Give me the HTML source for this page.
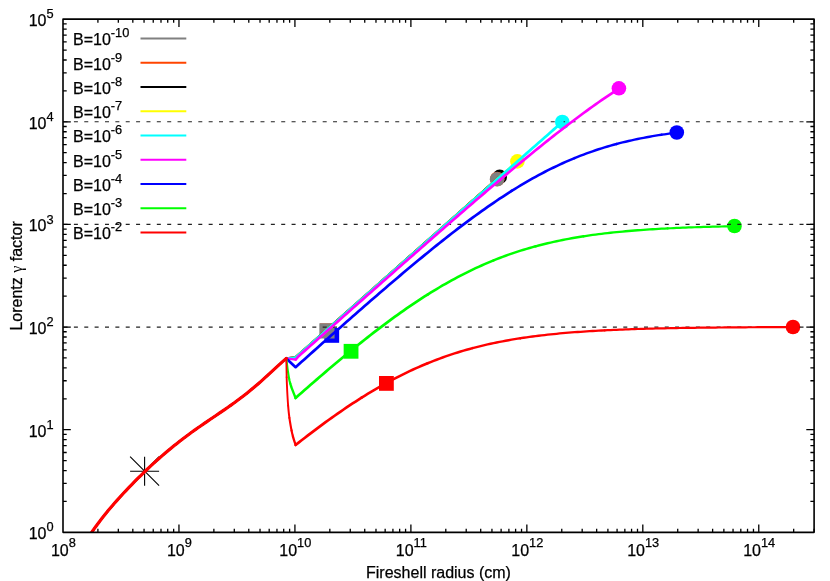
<!DOCTYPE html>
<html><head><meta charset="utf-8"><title>Lorentz gamma factor vs Fireshell radius</title>
<style>html,body{margin:0;padding:0;background:#fff;overflow:hidden}svg{display:block;will-change:transform}text{font-family:"Liberation Sans",sans-serif;fill:#000;stroke:#000;stroke-width:0.25px}.t{font-size:16px}.s{font-size:12.8px}</style></head><body>
<svg width="830" height="581" viewBox="0 0 830 581">
<rect x="0" y="0" width="830" height="581" fill="#ffffff"/>
<defs><clipPath id="pc"><rect x="63" y="19.15" width="751.1" height="513.2"/></clipPath></defs>
<g id="markers">
<rect x="379" y="376" width="14.8" height="14.8" fill="#ff0000"/>
<rect x="343.65" y="343.9" width="14.8" height="14.8" fill="#00ff00"/>
<rect x="324.35" y="328" width="14.8" height="14.8" fill="#0000ff"/>
<rect x="320.05" y="323.4" width="13.8" height="13.8" fill="#ff4500"/>
<rect x="319.35" y="323.3" width="15.2" height="15.2" fill="#808080"/>
<circle cx="793" cy="327" r="7.3" fill="#ff0000"/>
<circle cx="734.5" cy="226" r="7.3" fill="#00ff00"/>
<circle cx="676.8" cy="132.5" r="7.3" fill="#0000ff"/>
<circle cx="618.9" cy="88.3" r="7.3" fill="#ff00ff"/>
<circle cx="562.3" cy="122" r="7.3" fill="#00ffff"/>
<circle cx="517.4" cy="161.4" r="7.3" fill="#ffff00"/>
<circle cx="499.7" cy="176.9" r="7.3" fill="#000000"/>
<circle cx="497.25" cy="179" r="7.3" fill="#ff4500"/>
<circle cx="497.1" cy="179.3" r="7.3" fill="#808080"/>
</g>
<g stroke="#000" stroke-width="1.1" fill="none">
<path d="M130.1,471.2H159.1M144.6,456.7V485.7M130.1,456.7L159.1,485.7M130.1,485.7L159.1,456.7"/>
</g>
<g stroke="#222" stroke-width="1.15" stroke-dasharray="4 6.366" fill="none">
<path d="M63.53,327.07H814.1"/>
<path d="M63.53,224.43H814.1"/>
<path d="M63.53,121.79H814.1"/>
</g>
<g clip-path="url(#pc)" fill="none" stroke-linejoin="round" stroke-linecap="round" stroke-width="2.5">
<path d="M87,539.39L90,534.82L93,530.44L96,526.24L99,522.2L102,518.29L105,514.51L108,510.84L111,507.27L114,503.78L117,500.37L120,497.04L123,493.77L126,490.56L129,487.4L132,484.3L135,481.24L138,478.24L141,475.28L144,472.37L147,469.5L150,466.68L153,463.91L156,461.18L159,458.5L162,455.86L165,453.28L168,450.74L171,448.24L174,445.8L177,443.4L180,441.05L183,438.74L186,436.47L189,434.24L192,432.06L195,429.9L198,427.78L201,425.69L204,423.62L207,421.56L210,419.52L213,417.49L216,415.46L219,413.42L222,411.38L225,409.31L228,407.23L231,405.11L234,402.96L237,400.77L240,398.53L243,396.24L246,393.9L249,391.5L252,389.05L255,386.53L258,383.96L261,381.33L264,378.65L267,375.93L270,373.17L273,370.4L276,367.62L279,364.86L282,362.13L286.3,358.4" stroke="#808080" stroke-width="1.9"/>
<path d="M286.3,358.4L295.6,357.61" stroke="#808080" stroke-width="2.3"/>
<path d="M295.6,357.61L298.6,354.95L301.6,352.3L304.6,349.64L307.6,346.99L310.6,344.33L313.6,341.68L316.6,339.02L319.6,336.37L322.6,333.71L325.6,331.06L328.6,328.4L331.6,325.75L334.6,323.09L337.6,320.44L340.6,317.79L343.6,315.13L346.6,312.48L349.6,309.82L352.6,307.17L355.6,304.51L358.6,301.86L361.6,299.2L364.6,296.55L367.6,293.89L370.6,291.24L373.6,288.58L376.6,285.93L379.6,283.27L382.6,280.62L385.6,277.97L388.6,275.31L391.6,272.66L394.6,270L397.6,267.35L400.6,264.69L403.6,262.04L406.6,259.38L409.6,256.73L412.6,254.07L415.6,251.42L418.6,248.76L421.6,246.11L424.6,243.45L427.6,240.8L430.6,238.15L433.6,235.49L436.6,232.84L439.6,230.18L442.6,227.53L445.6,224.87L448.6,222.22L451.6,219.56L454.6,216.91L457.6,214.25L460.6,211.6L463.6,208.94L466.6,206.29L469.6,203.63L472.6,200.98L475.6,198.33L478.6,195.67L481.6,193.02L484.6,190.36L487.6,187.71L490.6,185.05L493.6,182.4L496.6,179.74L497.1,179.3" stroke="#808080" stroke-width="2.7"/>
<path d="M87,539.39L90,534.82L93,530.44L96,526.24L99,522.2L102,518.29L105,514.51L108,510.84L111,507.27L114,503.78L117,500.37L120,497.04L123,493.77L126,490.56L129,487.4L132,484.3L135,481.24L138,478.24L141,475.28L144,472.37L147,469.5L150,466.68L153,463.91L156,461.18L159,458.5L162,455.86L165,453.28L168,450.74L171,448.24L174,445.8L177,443.4L180,441.05L183,438.74L186,436.47L189,434.24L192,432.06L195,429.9L198,427.78L201,425.69L204,423.62L207,421.56L210,419.52L213,417.49L216,415.46L219,413.42L222,411.38L225,409.31L228,407.23L231,405.11L234,402.96L237,400.77L240,398.53L243,396.24L246,393.9L249,391.5L252,389.05L255,386.53L258,383.96L261,381.33L264,378.65L267,375.93L270,373.17L273,370.4L276,367.62L279,364.86L282,362.13L286.3,358.4" stroke="#ff4500" stroke-width="1.9"/>
<path d="M286.3,358.4L295.6,357.44" stroke="#ff4500" stroke-width="2.3"/>
<path d="M295.6,357.44L298.6,354.78L301.6,352.13L304.6,349.47L307.6,346.82L310.6,344.16L313.6,341.51L316.6,338.86L319.6,336.2L322.6,333.55L325.6,330.89L328.6,328.24L331.6,325.58L334.6,322.93L337.6,320.27L340.6,317.62L343.6,314.96L346.6,312.31L349.6,309.65L352.6,307L355.6,304.34L358.6,301.69L361.6,299.04L364.6,296.38L367.6,293.73L370.6,291.07L373.6,288.42L376.6,285.76L379.6,283.11L382.6,280.45L385.6,277.8L388.6,275.14L391.6,272.49L394.6,269.83L397.6,267.18L400.6,264.52L403.6,261.87L406.6,259.22L409.6,256.56L412.6,253.91L415.6,251.25L418.6,248.6L421.6,245.94L424.6,243.29L427.6,240.63L430.6,237.98L433.6,235.32L436.6,232.67L439.6,230.01L442.6,227.36L445.6,224.7L448.6,222.05L451.6,219.4L454.6,216.74L457.6,214.09L460.6,211.43L463.6,208.78L466.6,206.12L469.6,203.47L472.6,200.81L475.6,198.16L478.6,195.5L481.6,192.85L484.6,190.19L487.6,187.54L490.6,184.88L493.6,182.23L496.6,179.58L497.25,179" stroke="#ff4500" stroke-width="2.7"/>
<path d="M87,539.39L90,534.82L93,530.44L96,526.24L99,522.2L102,518.29L105,514.51L108,510.84L111,507.27L114,503.78L117,500.37L120,497.04L123,493.77L126,490.56L129,487.4L132,484.3L135,481.24L138,478.24L141,475.28L144,472.37L147,469.5L150,466.68L153,463.91L156,461.18L159,458.5L162,455.86L165,453.28L168,450.74L171,448.24L174,445.8L177,443.4L180,441.05L183,438.74L186,436.47L189,434.24L192,432.06L195,429.9L198,427.78L201,425.69L204,423.62L207,421.56L210,419.52L213,417.49L216,415.46L219,413.42L222,411.38L225,409.31L228,407.23L231,405.11L234,402.96L237,400.77L240,398.53L243,396.24L246,393.9L249,391.5L252,389.05L255,386.53L258,383.96L261,381.33L264,378.65L267,375.93L270,373.17L273,370.4L276,367.62L279,364.86L282,362.13L286.3,358.4" stroke="#000000" stroke-width="1.9"/>
<path d="M286.3,358.4L295.6,357.5" stroke="#000000" stroke-width="2.3"/>
<path d="M295.6,357.5L298.6,354.85L301.6,352.2L304.6,349.54L307.6,346.89L310.6,344.23L313.6,341.58L316.6,338.92L319.6,336.27L322.6,333.61L325.6,330.96L328.6,328.3L331.6,325.65L334.6,322.99L337.6,320.34L340.6,317.68L343.6,315.03L346.6,312.38L349.6,309.72L352.6,307.07L355.6,304.41L358.6,301.76L361.6,299.1L364.6,296.45L367.6,293.79L370.6,291.14L373.6,288.48L376.6,285.83L379.6,283.17L382.6,280.52L385.6,277.86L388.6,275.21L391.6,272.56L394.6,269.9L397.6,267.25L400.6,264.59L403.6,261.94L406.6,259.28L409.6,256.63L412.6,253.97L415.6,251.32L418.6,248.66L421.6,246.01L424.6,243.35L427.6,240.7L430.6,238.04L433.6,235.39L436.6,232.74L439.6,230.08L442.6,227.43L445.6,224.77L448.6,222.12L451.6,219.46L454.6,216.81L457.6,214.15L460.6,211.5L463.6,208.84L466.6,206.19L469.6,203.53L472.6,200.88L475.6,198.23L478.6,195.57L481.6,192.92L484.6,190.26L487.6,187.61L490.6,184.95L493.6,182.3L496.6,179.64L499.6,176.99L499.7,176.9" stroke="#000000" stroke-width="2.7"/>
<path d="M87,539.39L90,534.82L93,530.44L96,526.24L99,522.2L102,518.29L105,514.51L108,510.84L111,507.27L114,503.78L117,500.37L120,497.04L123,493.77L126,490.56L129,487.4L132,484.3L135,481.24L138,478.24L141,475.28L144,472.37L147,469.5L150,466.68L153,463.91L156,461.18L159,458.5L162,455.86L165,453.28L168,450.74L171,448.24L174,445.8L177,443.4L180,441.05L183,438.74L186,436.47L189,434.24L192,432.06L195,429.9L198,427.78L201,425.69L204,423.62L207,421.56L210,419.52L213,417.49L216,415.46L219,413.42L222,411.38L225,409.31L228,407.23L231,405.11L234,402.96L237,400.77L240,398.53L243,396.24L246,393.9L249,391.5L252,389.05L255,386.53L258,383.96L261,381.33L264,378.65L267,375.93L270,373.17L273,370.4L276,367.62L279,364.86L282,362.13L286.3,358.4" stroke="#ffff00" stroke-width="1.9"/>
<path d="M286.3,358.4L295.6,357.65" stroke="#ffff00" stroke-width="2.3"/>
<path d="M295.6,357.65L298.6,355L301.6,352.34L304.6,349.69L307.6,347.03L310.6,344.38L313.6,341.72L316.6,339.07L319.6,336.41L322.6,333.76L325.6,331.1L328.6,328.45L331.6,325.79L334.6,323.14L337.6,320.49L340.6,317.83L343.6,315.18L346.6,312.52L349.6,309.87L352.6,307.21L355.6,304.56L358.6,301.9L361.6,299.25L364.6,296.59L367.6,293.94L370.6,291.28L373.6,288.63L376.6,285.98L379.6,283.32L382.6,280.67L385.6,278.01L388.6,275.36L391.6,272.7L394.6,270.05L397.6,267.39L400.6,264.74L403.6,262.08L406.6,259.43L409.6,256.78L412.6,254.12L415.6,251.47L418.6,248.81L421.6,246.16L424.6,243.5L427.6,240.85L430.6,238.19L433.6,235.54L436.6,232.88L439.6,230.23L442.6,227.58L445.6,224.92L448.6,222.27L451.6,219.61L454.6,216.96L457.6,214.3L460.6,211.65L463.6,209L466.6,206.34L469.6,203.69L472.6,201.03L475.6,198.38L478.6,195.72L481.6,193.07L484.6,190.42L487.6,187.76L490.6,185.11L493.6,182.45L496.6,179.8L499.6,177.15L502.6,174.49L505.6,171.84L508.6,169.18L511.6,166.53L514.6,163.88L517.4,161.4" stroke="#ffff00" stroke-width="2.7"/>
<path d="M87,539.39L90,534.82L93,530.44L96,526.24L99,522.2L102,518.29L105,514.51L108,510.84L111,507.27L114,503.78L117,500.37L120,497.04L123,493.77L126,490.56L129,487.4L132,484.3L135,481.24L138,478.24L141,475.28L144,472.37L147,469.5L150,466.68L153,463.91L156,461.18L159,458.5L162,455.86L165,453.28L168,450.74L171,448.24L174,445.8L177,443.4L180,441.05L183,438.74L186,436.47L189,434.24L192,432.06L195,429.9L198,427.78L201,425.69L204,423.62L207,421.56L210,419.52L213,417.49L216,415.46L219,413.42L222,411.38L225,409.31L228,407.23L231,405.11L234,402.96L237,400.77L240,398.53L243,396.24L246,393.9L249,391.5L252,389.05L255,386.53L258,383.96L261,381.33L264,378.65L267,375.93L270,373.17L273,370.4L276,367.62L279,364.86L282,362.13L286.3,358.4" stroke="#00ffff" stroke-width="1.9"/>
<path d="M286.3,358.4L295.6,357.56" stroke="#00ffff" stroke-width="2.3"/>
<path d="M295.6,357.56L298.6,354.9L301.6,352.25L304.6,349.6L307.6,346.94L310.6,344.29L313.6,341.63L316.6,338.98L319.6,336.32L322.6,333.67L325.6,331.01L328.6,328.36L331.6,325.7L334.6,323.05L337.6,320.4L340.6,317.74L343.6,315.09L346.6,312.43L349.6,309.78L352.6,307.12L355.6,304.47L358.6,301.82L361.6,299.16L364.6,296.51L367.6,293.85L370.6,291.2L373.6,288.55L376.6,285.89L379.6,283.24L382.6,280.58L385.6,277.93L388.6,275.28L391.6,272.62L394.6,269.97L397.6,267.31L400.6,264.66L403.6,262.01L406.6,259.35L409.6,256.7L412.6,254.05L415.6,251.39L418.6,248.74L421.6,246.09L424.6,243.43L427.6,240.78L430.6,238.13L433.6,235.48L436.6,232.82L439.6,230.17L442.6,227.52L445.6,224.87L448.6,222.21L451.6,219.56L454.6,216.91L457.6,214.26L460.6,211.61L463.6,208.96L466.6,206.31L469.6,203.66L472.6,201.01L475.6,198.36L478.6,195.71L481.6,193.06L484.6,190.41L487.6,187.76L490.6,185.11L493.6,182.46L496.6,179.81L499.6,177.17L502.6,174.52L505.6,171.87L508.6,169.23L511.6,166.58L514.6,163.94L517.6,161.29L520.6,158.65L523.6,156.01L526.6,153.37L529.6,150.72L532.6,148.08L535.6,145.44L538.6,142.81L541.6,140.17L544.6,137.53L547.6,134.9L550.6,132.26L553.6,129.63L556.6,127L559.6,124.37L562.3,122" stroke="#00ffff" stroke-width="2.7"/>
<path d="M87,539.39L90,534.82L93,530.44L96,526.24L99,522.2L102,518.29L105,514.51L108,510.84L111,507.27L114,503.78L117,500.37L120,497.04L123,493.77L126,490.56L129,487.4L132,484.3L135,481.24L138,478.24L141,475.28L144,472.37L147,469.5L150,466.68L153,463.91L156,461.18L159,458.5L162,455.86L165,453.28L168,450.74L171,448.24L174,445.8L177,443.4L180,441.05L183,438.74L186,436.47L189,434.24L192,432.06L195,429.9L198,427.78L201,425.69L204,423.62L207,421.56L210,419.52L213,417.49L216,415.46L219,413.42L222,411.38L225,409.31L228,407.23L231,405.11L234,402.96L237,400.77L240,398.53L243,396.24L246,393.9L249,391.5L252,389.05L255,386.53L258,383.96L261,381.33L264,378.65L267,375.93L270,373.17L273,370.4L276,367.62L279,364.86L282,362.13L286.3,358.4" stroke="#ff00ff" stroke-width="1.9"/>
<path d="M286.3,358.4L295.6,359.57" stroke="#ff00ff" stroke-width="2.3"/>
<path d="M295.6,359.57L298.6,356.2L301.6,353.54L304.6,350.88L307.6,348.22L310.6,345.56L313.6,342.89L316.6,340.23L319.6,337.57L322.6,334.91L325.6,332.25L328.6,329.59L331.6,326.94L334.6,324.28L337.6,321.62L340.6,318.96L343.6,316.3L346.6,313.65L349.6,310.99L352.6,308.34L355.6,305.68L358.6,303.03L361.6,300.37L364.6,297.72L367.6,295.07L370.6,292.42L373.6,289.77L376.6,287.12L379.6,284.47L382.6,281.82L385.6,279.18L388.6,276.53L391.6,273.89L394.6,271.24L397.6,268.6L400.6,265.96L403.6,263.32L406.6,260.68L409.6,258.04L412.6,255.41L415.6,252.78L418.6,250.14L421.6,247.51L424.6,244.89L427.6,242.26L430.6,239.64L433.6,237.01L436.6,234.39L439.6,231.78L442.6,229.16L445.6,226.55L448.6,223.94L451.6,221.33L454.6,218.73L457.6,216.13L460.6,213.53L463.6,210.94L466.6,208.35L469.6,205.76L472.6,203.18L475.6,200.6L478.6,198.03L481.6,195.46L484.6,192.89L487.6,190.33L490.6,187.78L493.6,185.23L496.6,182.69L499.6,180.15L502.6,177.62L505.6,175.1L508.6,172.58L511.6,170.07L514.6,167.57L517.6,165.07L520.6,162.59L523.6,160.11L526.6,157.64L529.6,155.18L532.6,152.73L535.6,150.29L538.6,147.86L541.6,145.44L544.6,143.04L547.6,140.64L550.6,138.26L553.6,135.89L556.6,133.53L559.6,131.19L562.6,128.86L565.6,126.55L568.6,124.25L571.6,121.97L574.6,119.71L577.6,117.46L580.6,115.23L583.6,113.02L586.6,110.82L589.6,108.65L592.6,106.5L595.6,104.37L598.6,102.26L601.6,100.17L604.6,98.1L607.6,96.06L610.6,94.04L613.6,92.05L616.6,90.08L618.9,88.59" stroke="#ff00ff" stroke-width="2.7"/>
<path d="M87,539.39L90,534.82L93,530.44L96,526.24L99,522.2L102,518.29L105,514.51L108,510.84L111,507.27L114,503.78L117,500.37L120,497.04L123,493.77L126,490.56L129,487.4L132,484.3L135,481.24L138,478.24L141,475.28L144,472.37L147,469.5L150,466.68L153,463.91L156,461.18L159,458.5L162,455.86L165,453.28L168,450.74L171,448.24L174,445.8L177,443.4L180,441.05L183,438.74L186,436.47L189,434.24L192,432.06L195,429.9L198,427.78L201,425.69L204,423.62L207,421.56L210,419.52L213,417.49L216,415.46L219,413.42L222,411.38L225,409.31L228,407.23L231,405.11L234,402.96L237,400.77L240,398.53L243,396.24L246,393.9L249,391.5L252,389.05L255,386.53L258,383.96L261,381.33L264,378.65L267,375.93L270,373.17L273,370.4L276,367.62L279,364.86L282,362.13L286.3,358.4" stroke="#0000ff" stroke-width="1.9"/>
<path d="M286.3,358.4L295.6,367.21L298.6,364.52L301.6,361.84L304.6,359.15L307.6,356.47L310.6,353.79L313.6,351.12L316.6,348.44L319.6,345.77L322.6,343.1L325.6,340.43L328.6,337.77L331.6,335.11L334.6,332.45L337.6,329.8L340.6,327.14L343.6,324.5L346.6,321.85L349.6,319.21L352.6,316.58L355.6,313.94L358.6,311.32L361.6,308.69L364.6,306.08L367.6,303.46L370.6,300.85L373.6,298.25L376.6,295.66L379.6,293.07L382.6,290.48L385.6,287.9L388.6,285.33L391.6,282.77L394.6,280.21L397.6,277.66L400.6,275.12L403.6,272.59L406.6,270.07L409.6,267.55L412.6,265.05L415.6,262.56L418.6,260.07L421.6,257.6L424.6,255.14L427.6,252.69L430.6,250.25L433.6,247.82L436.6,245.41L439.6,243.01L442.6,240.63L445.6,238.26L448.6,235.9L451.6,233.56L454.6,231.24L457.6,228.93L460.6,226.65L463.6,224.37L466.6,222.12L469.6,219.89L472.6,217.68L475.6,215.48L478.6,213.31L481.6,211.16L484.6,209.03L487.6,206.93L490.6,204.84L493.6,202.79L496.6,200.75L499.6,198.74L502.6,196.76L505.6,194.8L508.6,192.88L511.6,190.97" stroke="#0000ff" stroke-width="2.7"/>
<path d="M511.6,190.97L514.6,189.1L517.6,187.25L520.6,185.44L523.6,183.65L526.6,181.89L529.6,180.17L532.6,178.47L535.6,176.81L538.6,175.17L541.6,173.57L544.6,172L547.6,170.46L550.6,168.96L553.6,167.49L556.6,166.05L559.6,164.64L562.6,163.27L565.6,161.92L568.6,160.62L571.6,159.34L574.6,158.1" stroke="#0000ff" stroke-width="2.6"/>
<path d="M574.6,158.1L577.6,156.89L580.6,155.71L583.6,154.56L586.6,153.45L589.6,152.37L592.6,151.32L595.6,150.3L598.6,149.31L601.6,148.35L604.6,147.42L607.6,146.52L610.6,145.65L613.6,144.81L616.6,143.99" stroke="#0000ff" stroke-width="2.5"/>
<path d="M616.6,143.99L619.6,143.2L622.6,142.44L625.6,141.71L628.6,141L631.6,140.31L634.6,139.65L637.6,139.02L640.6,138.41L643.6,137.82L646.6,137.25L649.6,136.7L652.6,136.18L655.6,135.67L658.6,135.18L661.6,134.72" stroke="#0000ff" stroke-width="2.4"/>
<path d="M661.6,134.72L664.6,134.27L667.6,133.84L670.6,133.42L673.6,133.03L676.6,132.65L676.8,132.62" stroke="#0000ff" stroke-width="2.3"/>
<path d="M87,539.39L90,534.82L93,530.44L96,526.24L99,522.2L102,518.29L105,514.51L108,510.84L111,507.27L114,503.78L117,500.37L120,497.04L123,493.77L126,490.56L129,487.4L132,484.3L135,481.24L138,478.24L141,475.28L144,472.37L147,469.5L150,466.68L153,463.91L156,461.18L159,458.5L162,455.86L165,453.28L168,450.74L171,448.24L174,445.8L177,443.4L180,441.05L183,438.74L186,436.47L189,434.24L192,432.06L195,429.9L198,427.78L201,425.69L204,423.62L207,421.56L210,419.52L213,417.49L216,415.46L219,413.42L222,411.38L225,409.31L228,407.23L231,405.11L234,402.96L237,400.77L240,398.53L243,396.24L246,393.9L249,391.5L252,389.05L255,386.53L258,383.96L261,381.33L264,378.65L267,375.93L270,373.17L273,370.4L276,367.62L279,364.86L282,362.13L286.3,358.4" stroke="#00ff00" stroke-width="1.9"/>
<path d="M286.3,358.4L286.54,360.18L286.83,362.59L287.18,365.47L287.58,368.64L288.02,371.94" stroke="#00ff00" stroke-width="2"/>
<path d="M288.02,371.94L288.51,375.21L289.04,378.29" stroke="#00ff00" stroke-width="2.1"/>
<path d="M289.04,378.29L289.6,381L290.26,383.51" stroke="#00ff00" stroke-width="2.2"/>
<path d="M290.26,383.51L291.05,386.04" stroke="#00ff00" stroke-width="2.3"/>
<path d="M291.05,386.04L291.92,388.53L292.81,390.91L293.67,393.12L294.46,395.08L295.12,396.73L295.6,398" stroke="#00ff00" stroke-width="2.4"/>
<path d="M295.6,398L298.6,395.35L301.6,392.7L304.6,390.07L307.6,387.44L310.6,384.82L313.6,382.22L316.6,379.62L319.6,377.03L322.6,374.45L325.6,371.89L328.6,369.33L331.6,366.79L334.6,364.26L337.6,361.74L340.6,359.24L343.6,356.75L346.6,354.27L349.6,351.81L352.6,349.36L355.6,346.93L358.6,344.51L361.6,342.11L364.6,339.73L367.6,337.37L370.6,335.02L373.6,332.69L376.6,330.38L379.6,328.09L382.6,325.82L385.6,323.58L388.6,321.35L391.6,319.14L394.6,316.96L397.6,314.8L400.6,312.66L403.6,310.55L406.6,308.46L409.6,306.4L412.6,304.36L415.6,302.35L418.6,300.37L421.6,298.41L424.6,296.48L427.6,294.58" stroke="#00ff00" stroke-width="2.7"/>
<path d="M427.6,294.58L430.6,292.7L433.6,290.86L436.6,289.04L439.6,287.25L442.6,285.49L445.6,283.77L448.6,282.07L451.6,280.4L454.6,278.77L457.6,277.16L460.6,275.59L463.6,274.05L466.6,272.54L469.6,271.06L472.6,269.61L475.6,268.19L478.6,266.81L481.6,265.46L484.6,264.14L487.6,262.85L490.6,261.59L493.6,260.36" stroke="#00ff00" stroke-width="2.6"/>
<path d="M493.6,260.36L496.6,259.17L499.6,258L502.6,256.87L505.6,255.76L508.6,254.69L511.6,253.64L514.6,252.63L517.6,251.64L520.6,250.68L523.6,249.75L526.6,248.85L529.6,247.97L532.6,247.12L535.6,246.3" stroke="#00ff00" stroke-width="2.5"/>
<path d="M535.6,246.3L538.6,245.51L541.6,244.73L544.6,243.99L547.6,243.27L550.6,242.57L553.6,241.89L556.6,241.24L559.6,240.61L562.6,240L565.6,239.41L568.6,238.84L571.6,238.29L574.6,237.77L577.6,237.26L580.6,236.77L583.6,236.29" stroke="#00ff00" stroke-width="2.4"/>
<path d="M583.6,236.29L586.6,235.84L589.6,235.4L592.6,234.98L595.6,234.57L598.6,234.18L601.6,233.8L604.6,233.44L607.6,233.09L610.6,232.75L613.6,232.43L616.6,232.12L619.6,231.82L622.6,231.54L625.6,231.26L628.6,231L631.6,230.74L634.6,230.5L637.6,230.27L640.6,230.04L643.6,229.83L646.6,229.62L649.6,229.42L652.6,229.23L655.6,229.05L658.6,228.87L661.6,228.7L664.6,228.54L667.6,228.39" stroke="#00ff00" stroke-width="2.3"/>
<path d="M667.6,228.39L670.6,228.24L673.6,228.1L676.6,227.96L679.6,227.83L682.6,227.71L685.6,227.59L688.6,227.47L691.6,227.36L694.6,227.26L697.6,227.16L700.6,227.06L703.6,226.97L706.6,226.88L709.6,226.79L712.6,226.71L715.6,226.63L718.6,226.56L721.6,226.49L724.6,226.42L727.6,226.35L730.6,226.29L733.6,226.23L734.5,226.21" stroke="#00ff00" stroke-width="2.2"/>
<path d="M87,539.39L90,534.82L93,530.44L96,526.24L99,522.2L102,518.29L105,514.51L108,510.84L111,507.27L114,503.78L117,500.37L120,497.04L123,493.77L126,490.56L129,487.4L132,484.3L135,481.24L138,478.24L141,475.28L144,472.37L147,469.5L150,466.68L153,463.91L156,461.18L159,458.5L162,455.86L165,453.28L168,450.74L171,448.24L174,445.8L177,443.4L180,441.05L183,438.74L186,436.47L189,434.24L192,432.06L195,429.9L198,427.78L201,425.69L204,423.62L207,421.56L210,419.52L213,417.49L216,415.46L219,413.42L222,411.38L225,409.31L228,407.23L231,405.11L234,402.96L237,400.77L240,398.53L243,396.24L246,393.9L249,391.5L252,389.05L255,386.53L258,383.96L261,381.33L264,378.65L267,375.93L270,373.17L273,370.4L276,367.62L279,364.86L282,362.13L286.3,358.4" stroke="#ff0000" stroke-width="3.2"/>
<path d="M286.3,358.4L286.34,360.39L286.38,363.03L286.43,366.18L286.49,369.68L286.56,373.39L286.65,377.18" stroke="#ff0000" stroke-width="1.8"/>
<path d="M286.65,377.18L286.76,380.9L286.9,384.4L287.06,387.82L287.23,391.35L287.42,394.94L287.63,398.54L287.86,402.09L288.12,405.55" stroke="#ff0000" stroke-width="1.9"/>
<path d="M288.12,405.55L288.4,408.87L288.7,412L289.04,414.97L289.41,417.83" stroke="#ff0000" stroke-width="2"/>
<path d="M289.41,417.83L289.81,420.6L290.24,423.25L290.67,425.78L291.12,428.19L291.56,430.47" stroke="#ff0000" stroke-width="2.1"/>
<path d="M291.56,430.47L292,432.6L292.46,434.63L292.96,436.57" stroke="#ff0000" stroke-width="2.2"/>
<path d="M292.96,436.57L293.49,438.39L294.01,440.09L294.5,441.62L294.95,442.96L295.32,444.1L295.6,445" stroke="#ff0000" stroke-width="2.3"/>
<path d="M295.6,445L298.6,442.63L301.6,440.29L304.6,437.96L307.6,435.65L310.6,433.35L313.6,431.08L316.6,428.82L319.6,426.59L322.6,424.37L325.6,422.18L328.6,420.01L331.6,417.86L334.6,415.73L337.6,413.62L340.6,411.54L343.6,409.49L346.6,407.45L349.6,405.44L352.6,403.46L355.6,401.51L358.6,399.58L361.6,397.67" stroke="#ff0000" stroke-width="2.7"/>
<path d="M361.6,397.67L364.6,395.8L367.6,393.95L370.6,392.13L373.6,390.34L376.6,388.58L379.6,386.85L382.6,385.14L385.6,383.47L388.6,381.82L391.6,380.21L394.6,378.63L397.6,377.08L400.6,375.56L403.6,374.06L406.6,372.61L409.6,371.18L412.6,369.78L415.6,368.41L418.6,367.08L421.6,365.77L424.6,364.5L427.6,363.26" stroke="#ff0000" stroke-width="2.6"/>
<path d="M427.6,363.26L430.6,362.05L433.6,360.86L436.6,359.71L439.6,358.59L442.6,357.5L445.6,356.44L448.6,355.4L451.6,354.4L454.6,353.42L457.6,352.48L460.6,351.56L463.6,350.66L466.6,349.8L469.6,348.96L472.6,348.14" stroke="#ff0000" stroke-width="2.5"/>
<path d="M472.6,348.14L475.6,347.35L478.6,346.59L481.6,345.85L484.6,345.13L487.6,344.44L490.6,343.77L493.6,343.12L496.6,342.5L499.6,341.89L502.6,341.31L505.6,340.75L508.6,340.2L511.6,339.68L514.6,339.17L517.6,338.69L520.6,338.22" stroke="#ff0000" stroke-width="2.4"/>
<path d="M520.6,338.22L523.6,337.76L526.6,337.33L529.6,336.91L532.6,336.5L535.6,336.11L538.6,335.74L541.6,335.38L544.6,335.03L547.6,334.7L550.6,334.37L553.6,334.07L556.6,333.77L559.6,333.48L562.6,333.21L565.6,332.95L568.6,332.69L571.6,332.45L574.6,332.22L577.6,331.99L580.6,331.78L583.6,331.57L586.6,331.37L589.6,331.18L592.6,331L595.6,330.83L598.6,330.66L601.6,330.5L604.6,330.34" stroke="#ff0000" stroke-width="2.3"/>
<path d="M604.6,330.34L607.6,330.2L610.6,330.06L613.6,329.92L616.6,329.79L619.6,329.66L622.6,329.54L625.6,329.43L628.6,329.32L631.6,329.21L634.6,329.11L637.6,329.02L640.6,328.92L643.6,328.83L646.6,328.75L649.6,328.67L652.6,328.59L655.6,328.51L658.6,328.44L661.6,328.37L664.6,328.31L667.6,328.25L670.6,328.19L673.6,328.13L676.6,328.07L679.6,328.02L682.6,327.97L685.6,327.92L688.6,327.87L691.6,327.83L694.6,327.79L697.6,327.75L700.6,327.71L703.6,327.67L706.6,327.63L709.6,327.6L712.6,327.57L715.6,327.54L718.6,327.51L721.6,327.48L724.6,327.45L727.6,327.42L730.6,327.4L733.6,327.37L736.6,327.35L739.6,327.33L742.6,327.31L745.6,327.29L748.6,327.27L751.6,327.25L754.6,327.23L757.6,327.22L760.6,327.2L763.6,327.18L766.6,327.17L769.6,327.16L772.6,327.14L775.6,327.13L778.6,327.12L781.6,327.1L784.6,327.09L787.6,327.08L790.6,327.07L793,327.06" stroke="#ff0000" stroke-width="2.2"/>
</g>
<g stroke="#000" fill="none" stroke-width="1.3">
<path d="M97.91,532.35v-3.7M97.91,19.15v3.7M118.33,532.35v-3.7M118.33,19.15v3.7M132.82,532.35v-3.7M132.82,19.15v3.7M144.05,532.35v-3.7M144.05,19.15v3.7M153.24,532.35v-3.7M153.24,19.15v3.7M161,532.35v-3.7M161,19.15v3.7M167.72,532.35v-3.7M167.72,19.15v3.7M173.66,532.35v-3.7M173.66,19.15v3.7M178.96,532.35v-7.8M178.96,19.15v7.8M213.87,532.35v-3.7M213.87,19.15v3.7M234.29,532.35v-3.7M234.29,19.15v3.7M248.78,532.35v-3.7M248.78,19.15v3.7M260.02,532.35v-3.7M260.02,19.15v3.7M269.2,532.35v-3.7M269.2,19.15v3.7M276.96,532.35v-3.7M276.96,19.15v3.7M283.69,532.35v-3.7M283.69,19.15v3.7M289.62,532.35v-3.7M289.62,19.15v3.7M294.92,532.35v-7.8M294.92,19.15v7.8M329.83,532.35v-3.7M329.83,19.15v3.7M350.25,532.35v-3.7M350.25,19.15v3.7M364.74,532.35v-3.7M364.74,19.15v3.7M375.98,532.35v-3.7M375.98,19.15v3.7M385.16,532.35v-3.7M385.16,19.15v3.7M392.92,532.35v-3.7M392.92,19.15v3.7M399.65,532.35v-3.7M399.65,19.15v3.7M405.58,532.35v-3.7M405.58,19.15v3.7M410.89,532.35v-7.8M410.89,19.15v7.8M445.79,532.35v-3.7M445.79,19.15v3.7M466.21,532.35v-3.7M466.21,19.15v3.7M480.7,532.35v-3.7M480.7,19.15v3.7M491.94,532.35v-3.7M491.94,19.15v3.7M501.12,532.35v-3.7M501.12,19.15v3.7M508.89,532.35v-3.7M508.89,19.15v3.7M515.61,532.35v-3.7M515.61,19.15v3.7M521.54,532.35v-3.7M521.54,19.15v3.7M526.85,532.35v-7.8M526.85,19.15v7.8M561.76,532.35v-3.7M561.76,19.15v3.7M582.18,532.35v-3.7M582.18,19.15v3.7M596.66,532.35v-3.7M596.66,19.15v3.7M607.9,532.35v-3.7M607.9,19.15v3.7M617.08,532.35v-3.7M617.08,19.15v3.7M624.85,532.35v-3.7M624.85,19.15v3.7M631.57,532.35v-3.7M631.57,19.15v3.7M637.5,532.35v-3.7M637.5,19.15v3.7M642.81,532.35v-7.8M642.81,19.15v7.8M677.72,532.35v-3.7M677.72,19.15v3.7M698.14,532.35v-3.7M698.14,19.15v3.7M712.63,532.35v-3.7M712.63,19.15v3.7M723.86,532.35v-3.7M723.86,19.15v3.7M733.05,532.35v-3.7M733.05,19.15v3.7M740.81,532.35v-3.7M740.81,19.15v3.7M747.53,532.35v-3.7M747.53,19.15v3.7M753.47,532.35v-3.7M753.47,19.15v3.7M758.77,532.35v-7.8M758.77,19.15v7.8M793.68,532.35v-3.7M793.68,19.15v3.7M814.1,532.35v-3.7M814.1,19.15v3.7M63,501.45h3.7M814.1,501.45h-3.7M63,483.38h3.7M814.1,483.38h-3.7M63,470.55h3.7M814.1,470.55h-3.7M63,460.61h3.7M814.1,460.61h-3.7M63,452.48h3.7M814.1,452.48h-3.7M63,445.61h3.7M814.1,445.61h-3.7M63,439.66h3.7M814.1,439.66h-3.7M63,434.41h3.7M814.1,434.41h-3.7M63,429.71h7.8M814.1,429.71h-7.8M63,398.81h3.7M814.1,398.81h-3.7M63,380.74h3.7M814.1,380.74h-3.7M63,367.91h3.7M814.1,367.91h-3.7M63,357.97h3.7M814.1,357.97h-3.7M63,349.84h3.7M814.1,349.84h-3.7M63,342.97h3.7M814.1,342.97h-3.7M63,337.02h3.7M814.1,337.02h-3.7M63,331.77h3.7M814.1,331.77h-3.7M63,327.07h7.8M814.1,327.07h-7.8M63,296.17h3.7M814.1,296.17h-3.7M63,278.1h3.7M814.1,278.1h-3.7M63,265.27h3.7M814.1,265.27h-3.7M63,255.33h3.7M814.1,255.33h-3.7M63,247.2h3.7M814.1,247.2h-3.7M63,240.33h3.7M814.1,240.33h-3.7M63,234.38h3.7M814.1,234.38h-3.7M63,229.13h3.7M814.1,229.13h-3.7M63,224.43h7.8M814.1,224.43h-7.8M63,193.53h3.7M814.1,193.53h-3.7M63,175.46h3.7M814.1,175.46h-3.7M63,162.63h3.7M814.1,162.63h-3.7M63,152.69h3.7M814.1,152.69h-3.7M63,144.56h3.7M814.1,144.56h-3.7M63,137.69h3.7M814.1,137.69h-3.7M63,131.74h3.7M814.1,131.74h-3.7M63,126.49h3.7M814.1,126.49h-3.7M63,121.79h7.8M814.1,121.79h-7.8M63,90.89h3.7M814.1,90.89h-3.7M63,72.82h3.7M814.1,72.82h-3.7M63,59.99h3.7M814.1,59.99h-3.7M63,50.05h3.7M814.1,50.05h-3.7M63,41.92h3.7M814.1,41.92h-3.7M63,35.05h3.7M814.1,35.05h-3.7M63,29.1h3.7M814.1,29.1h-3.7M63,23.85h3.7M814.1,23.85h-3.7"/>
<rect x="63" y="19.15" width="751.1" height="513.2" stroke-width="1.6" stroke-linejoin="round"/>
</g>
<g class="t">
<text x="53.6" y="539.35" text-anchor="end">10<tspan class="s" dy="-7.9">0</tspan></text>
<text x="53.6" y="436.71" text-anchor="end">10<tspan class="s" dy="-7.9">1</tspan></text>
<text x="53.6" y="334.07" text-anchor="end">10<tspan class="s" dy="-7.9">2</tspan></text>
<text x="53.6" y="231.43" text-anchor="end">10<tspan class="s" dy="-7.9">3</tspan></text>
<text x="53.6" y="128.79" text-anchor="end">10<tspan class="s" dy="-7.9">4</tspan></text>
<text x="53.6" y="26.15" text-anchor="end">10<tspan class="s" dy="-7.9">5</tspan></text>
<text x="63.4" y="555.6" text-anchor="middle">10<tspan class="s" dy="-8.5">8</tspan></text>
<text x="179.36" y="555.6" text-anchor="middle">10<tspan class="s" dy="-8.5">9</tspan></text>
<text x="295.32" y="555.6" text-anchor="middle">10<tspan class="s" dy="-8.5">10</tspan></text>
<text x="411.29" y="555.6" text-anchor="middle">10<tspan class="s" dy="-8.5">11</tspan></text>
<text x="527.25" y="555.6" text-anchor="middle">10<tspan class="s" dy="-8.5">12</tspan></text>
<text x="643.21" y="555.6" text-anchor="middle">10<tspan class="s" dy="-8.5">13</tspan></text>
<text x="759.17" y="555.6" text-anchor="middle">10<tspan class="s" dy="-8.5">14</tspan></text>
</g>
<text class="t" x="438.5" y="578" text-anchor="middle">Fireshell radius (cm)</text>
<text class="t" transform="translate(22,275.9) rotate(-90)" text-anchor="middle">Lorentz <tspan style="font-family:'Liberation Serif',serif;stroke-width:0">γ</tspan> factor</text>
<g class="t">
<text x="73" y="45.4">B=10<tspan class="s" dy="-8">-10</tspan></text>
<path d="M140.5,38.5H186.3" stroke="#808080" stroke-width="2.2" fill="none"/>
<text x="73" y="69.65">B=10<tspan class="s" dy="-8">-9</tspan></text>
<path d="M140.5,62.75H186.3" stroke="#ff4500" stroke-width="2.2" fill="none"/>
<text x="73" y="93.9">B=10<tspan class="s" dy="-8">-8</tspan></text>
<path d="M140.5,87H186.3" stroke="#000000" stroke-width="2.2" fill="none"/>
<text x="73" y="118.15">B=10<tspan class="s" dy="-8">-7</tspan></text>
<path d="M140.5,111.25H186.3" stroke="#ffff00" stroke-width="2.2" fill="none"/>
<text x="73" y="142.4">B=10<tspan class="s" dy="-8">-6</tspan></text>
<path d="M140.5,135.5H186.3" stroke="#00ffff" stroke-width="2.2" fill="none"/>
<text x="73" y="166.65">B=10<tspan class="s" dy="-8">-5</tspan></text>
<path d="M140.5,159.75H186.3" stroke="#ff00ff" stroke-width="2.2" fill="none"/>
<text x="73" y="190.9">B=10<tspan class="s" dy="-8">-4</tspan></text>
<path d="M140.5,184H186.3" stroke="#0000ff" stroke-width="2.2" fill="none"/>
<text x="73" y="215.15">B=10<tspan class="s" dy="-8">-3</tspan></text>
<path d="M140.5,208.25H186.3" stroke="#00ff00" stroke-width="2.2" fill="none"/>
<text x="73" y="239.4">B=10<tspan class="s" dy="-8">-2</tspan></text>
<path d="M140.5,232.5H186.3" stroke="#ff0000" stroke-width="2.2" fill="none"/>
</g>
</svg></body></html>
